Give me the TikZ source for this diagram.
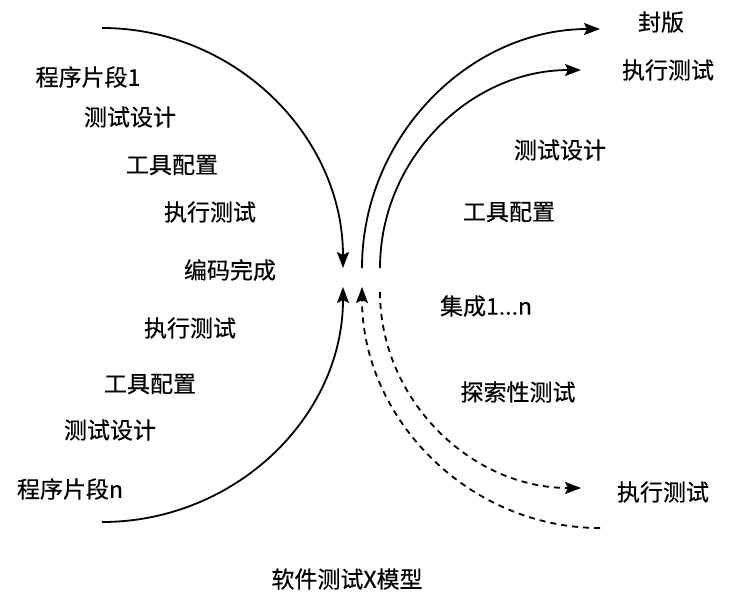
\documentclass[tikz,border=0pt]{standalone}
\usepackage{fontspec}
\setmainfont{Noto Sans CJK SC}[FakeBold=0.4]
\usepackage{tikz}
\usetikzlibrary{arrows.meta}

\tikzset{
  flow/.style={line width=1.8pt,-{Stealth[length=16pt,width=12pt,inset=3pt]}},
  flowplain/.style={line width=1.8pt},
  dashflow/.style={flow,dash pattern=on 6pt off 5pt},
  dashplain/.style={flowplain,dash pattern=on 6pt off 5pt},
}

\begin{document}
\begin{tikzpicture}[x=1pt,y=-1pt,every node/.style={font=\fontsize{23}{27}\selectfont,inner sep=0pt}]
    \useasboundingbox (0,0) rectangle (730,600);
    % end points of the arms
    \coordinate (ltop) at (102,28);   \coordinate (ltopend) at (343,268);
    \coordinate (lbot) at (102,522);  \coordinate (lbotend) at (343,287);
    \coordinate (routs) at (362,268); \coordinate (routend) at (600,29);
    \coordinate (rins)  at (380,268); \coordinate (rinend)  at (581,70);
    \coordinate (dout)  at (600,528); \coordinate (doutend) at (362,287);
    \coordinate (dins)  at (380,292); \coordinate (dinend)  at (581,488);
    % left arms
    \draw[flow] (ltop) .. controls (235,28) and (343,136) .. (ltopend);
    \draw[flow] (lbot) .. controls (235,522) and (343,417) .. (lbotend);
    % right arms, solid
    \draw[flow] (routs) .. controls (362,137) and (469,29) .. (routend);
    \draw[flow] (rins) .. controls (380,159) and (470,70) .. (rinend);
    % right arms, dashed
    \draw[dashflow] (dout) .. controls (469,528) and (362,419) .. (doutend);
    \draw[dashflow] (dins) .. controls (380,399) and (470,488) .. (dinend);
    % labels left
    \node (seg1)   at (88,77)   {程序片段1};
    \node (ldes1)  at (130,117) {测试设计};
    \node (ltool1) at (172,165) {工具配置};
    \node (lrun1)  at (210,212) {执行测试};
    \node (code)   at (230,270) {编码完成};
    \node (lrun2)  at (190,328) {执行测试};
    \node (ltool2) at (150,384) {工具配置};
    \node (ldes2)  at (110,430) {测试设计};
    \node (segn)   at (70,489)  {程序片段n};
    % labels right
    \node (seal)   at (661,22)  {封版};
    \node (rrun1)  at (668,70)  {执行测试};
    \node (rdes)   at (560,150) {测试设计};
    \node (rtool)  at (509,212) {工具配置};
    \node (integ)  at (486,306) {集成1...n};
    \node (explor) at (518,392) {探索性测试};
    \node (rrun2)  at (663,492) {执行测试};
    \node (title)  at (347,579) {软件测试X模型};
\end{tikzpicture}
\end{document}
